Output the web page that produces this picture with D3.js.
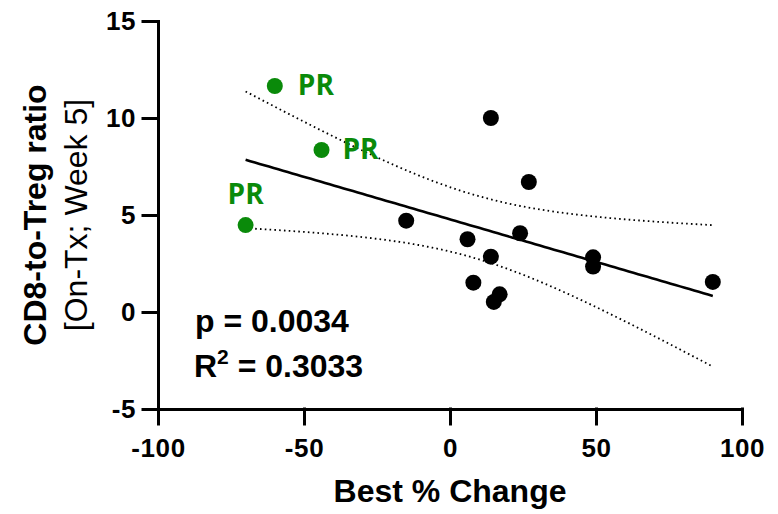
<!DOCTYPE html>
<html>
<head>
<meta charset="utf-8">
<script src="https://cdn.jsdelivr.net/npm/d3@7"></script>
<style>
  html, body { margin: 0; padding: 0; background: #fff; }
  svg { display: block; }
  text { font-family: "Liberation Sans", Arial, sans-serif; }
</style>
</head>
<body>
<svg id="chart" width="778" height="514"></svg>
<script>
// Best % change vs CD8-to-Treg ratio; responders (PR) shown in green
const prChange = [-60, -44, -70];
const prRatio  = [11.65, 8.35, 4.48];
const prLabels = ["PR", "PR", "PR"];

const otherChange = [-15, 14, 27, 6, 24, 14, 8, 17, 15, 49, 49, 90];
const otherRatio  = [4.71, 10.0, 6.7, 3.75, 4.06, 2.85, 1.51, 0.91, 0.52, 2.82, 2.34, 1.55];

const xTicks = [-100, -50, 0, 50, 100];
const yTicks = [-5, 0, 5, 10, 15];

const statLines = ["p = 0.0034", "0.3033"];

const GREEN = "#0a8a0a";
const svg = d3.select("#chart");

const x = d3.scaleLinear().domain([-100, 100]).range([158, 742]);
const y = d3.scaleLinear().domain([-5, 15]).range([409, 21]);

// Linear fit with 95% confidence band of the mean
const allX = prChange.concat(otherChange);
const allY = prRatio.concat(otherRatio);
const n = allX.length;
const mx = d3.mean(allX), my = d3.mean(allY);
const sxx = d3.sum(allX, v => (v - mx) ** 2);
const sxy = d3.sum(allX.map((v, i) => (v - mx) * (allY[i] - my)));
const slope = sxy / sxx;
const intercept = my - slope * mx;
const sse = d3.sum(allX.map((v, i) => (allY[i] - (intercept + slope * v)) ** 2));
const s = Math.sqrt(sse / (n - 2));
const tCrit = 2.160; // t(0.975, df = 13)
const [xmin, xmax] = d3.extent(allX);
const fitXs = d3.range(0, 101).map(i => xmin + (xmax - xmin) * i / 100);
const band = fitXs.map(v => {
  const yh = intercept + slope * v;
  const hw = tCrit * s * Math.sqrt(1 / n + (v - mx) ** 2 / sxx);
  return { x: v, y: yh, lo: yh - hw, hi: yh + hw };
});

const line = key => d3.line().x(d => x(d.x)).y(d => y(d[key]));

["hi", "lo"].forEach(k => {
  svg.append("path").datum(band)
    .attr("d", line(k))
    .attr("fill", "none")
    .attr("stroke", "#000")
    .attr("stroke-width", 1.8)
    .attr("stroke-dasharray", "1.6,3.2");
});

svg.append("path").datum(band)
  .attr("d", line("y"))
  .attr("fill", "none")
  .attr("stroke", "#000")
  .attr("stroke-width", 2.6);

// Axes
const xAxis = d3.axisBottom(x).tickValues(xTicks).tickSize(15).tickSizeOuter(0)
  .tickPadding(15).tickFormat(d => String(d));
const yAxis = d3.axisLeft(y).tickValues(yTicks).tickSize(15).tickSizeOuter(0)
  .tickPadding(7).tickFormat(d => String(d));

const gx = svg.append("g").attr("transform", `translate(0,${y(-5)})`).call(xAxis);
const gy = svg.append("g").attr("transform", `translate(${x(-100)},0)`).call(yAxis);
[gx, gy].forEach(g => {
  g.selectAll("path, line").attr("stroke", "#000").attr("stroke-width", 3)
    .attr("stroke-linecap", "square");
  g.selectAll("text").attr("fill", "#000")
    .style("font-family", '"Liberation Sans", Arial, sans-serif')
    .style("font-weight", "bold").style("font-size", "26px")
    .style("letter-spacing", "0.6px");
});

// Points
svg.append("g").selectAll("circle").data(otherChange.map((v, i) => [v, otherRatio[i]]))
  .join("circle")
  .attr("cx", d => x(d[0])).attr("cy", d => y(d[1])).attr("r", 8)
  .attr("fill", "#000");

svg.append("g").selectAll("circle").data(prChange.map((v, i) => [v, prRatio[i]]))
  .join("circle")
  .attr("cx", d => x(d[0])).attr("cy", d => y(d[1])).attr("r", 8)
  .attr("fill", GREEN);

// PR labels: right of the upper two points, above the lowest one
const labelPlacement = [
  { dx: 23, dy: 9, anchor: "start" },
  { dx: 21, dy: 9, anchor: "start" },
  { dx: 0, dy: -21, anchor: "middle" }
];
svg.append("g").selectAll("text").data(prLabels)
  .join("text")
  .attr("x", (d, i) => x(prChange[i]) + labelPlacement[i].dx)
  .attr("y", (d, i) => y(prRatio[i]) + labelPlacement[i].dy)
  .attr("text-anchor", (d, i) => labelPlacement[i].anchor)
  .style("font-family", '"Open Sans", "Noto Sans", sans-serif')
  .style("font-weight", "bold").style("font-size", "28px")
  .attr("fill", GREEN)
  .text(d => d);

// Axis titles
svg.append("text")
  .attr("x", x(0)).attr("y", 502)
  .attr("text-anchor", "middle")
  .style("font-weight", "bold").style("font-size", "32px")
  .text("Best % Change");

const yMid = (y(-5) + y(15)) / 2;
svg.append("text")
  .attr("transform", `translate(46,${yMid}) rotate(-90)`)
  .attr("text-anchor", "middle")
  .style("font-weight", "bold").style("font-size", "32px")
  .text("CD8-to-Treg ratio");
svg.append("text")
  .attr("transform", `translate(87,${yMid}) rotate(-90)`)
  .attr("text-anchor", "middle")
  .style("font-size", "32px")
  .text("[On-Tx; Week 5]");

// Fit statistics
svg.append("text")
  .attr("x", 195).attr("y", 332)
  .style("font-weight", "bold").style("font-size", "32px")
  .text(statLines[0]);
const r2 = svg.append("text")
  .attr("x", 194).attr("y", 377)
  .style("font-weight", "bold").style("font-size", "32px");
r2.append("tspan").text("R");
r2.append("tspan").attr("dy", -13).style("font-size", "21px").text("2");
r2.append("tspan").attr("dy", 13).text(" = " + statLines[1]);
</script>
</body>
</html>
